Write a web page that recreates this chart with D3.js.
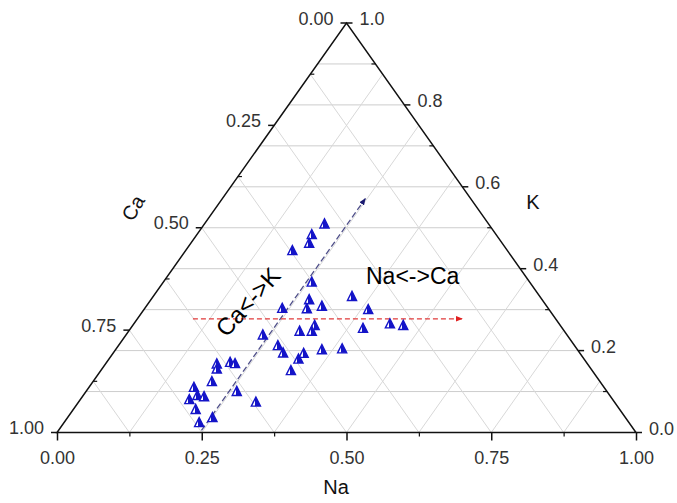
<html>
<head>
<meta charset="utf-8">
<script src="https://d3js.org/d3.v7.min.js"></script>
<style>
  body { margin: 0; background: #fff; }
  .grid line { stroke: #d8d8d8; stroke-width: 1; }
  .grid line.h { stroke: #cdcdcd; }
  .tick-label { font-family: "Liberation Sans", Arial, sans-serif; font-size: 18px; fill: #333; }
  .title { font-family: "Liberation Sans", Arial, sans-serif; font-size: 20px; fill: #111; }
  .note { font-family: "Liberation Sans", Arial, sans-serif; font-size: 23px; fill: #000; }
</style>
</head>
<body>
<div id="chart"></div>
<script>
// sample composition (fractions)
var na = [0.207, 0.198, 0.204, 0.184, 0.256, 0.343, 0.273, 0.280, 0.303, 0.237,
          0.387, 0.314, 0.316, 0.295, 0.401, 0.442, 0.467, 0.236, 0.275, 0.293,
          0.329, 0.327, 0.356, 0.390, 0.328, 0.192, 0.198, 0.213, 0.223, 0.205,
          0.181, 0.197, 0.210, 0.188, 0.260, 0.306, 0.211, 0.250, 0.233];
var k  = [0.510, 0.484, 0.463, 0.445, 0.368, 0.333, 0.325, 0.303, 0.309, 0.304,
          0.301, 0.262, 0.248, 0.248, 0.255, 0.266, 0.262, 0.239, 0.213, 0.195,
          0.194, 0.180, 0.203, 0.205, 0.152, 0.168, 0.156, 0.172, 0.169, 0.125,
          0.111, 0.091, 0.088, 0.081, 0.101, 0.075, 0.057, 0.037, 0.025];
var ca = na.map(function(d, i) { return 1 - d - k[i]; });

// tick values
var naTicks = [0, 0.25, 0.5, 0.75, 1];
var caTicks = [0, 0.25, 0.5, 0.75, 1];
var kTicks  = [0, 0.2, 0.4, 0.6, 0.8, 1];
var naMinor = [0.125, 0.375, 0.625, 0.875];
var caMinor = [0.125, 0.375, 0.625, 0.875];
var kMinor  = [0.1, 0.3, 0.5, 0.7, 0.9];
var kGrid   = [0.1, 0.2, 0.3, 0.4, 0.5, 0.6, 0.7, 0.8, 0.9];
var diagGrid = [0.125, 0.25, 0.375, 0.5, 0.625, 0.75, 0.875];

// trend arrows: [na, k] start and end
var arrowNaCa = [[0.096, 0.2775], [0.561, 0.2775]];
var arrowCaK  = [[0.247, 0.005], [0.247, 0.571]];

var width = 677, height = 503;
var x = d3.scaleLinear().domain([0, 1]).range([57, 636]);
var y = d3.scaleLinear().domain([0, 1]).range([432.5, 23]);

// ternary (na, k) -> screen
function px(n, kk) { return x(n + kk / 2); }
function py(kk) { return y(kk); }

var svg = d3.select("#chart").append("svg")
  .attr("width", width)
  .attr("height", height);

var defs = svg.append("defs");
var grad = defs.append("linearGradient").attr("id", "mk")
  .attr("x1", "0").attr("x2", "1").attr("y1", "0").attr("y2", "0");
grad.append("stop").attr("offset", "0.38").attr("stop-color", "#ffffff");
grad.append("stop").attr("offset", "0.38").attr("stop-color", "#1414c8");
grad.append("stop").attr("offset", "1").attr("stop-color", "#1414c8");

["red", "navy"].forEach(function(c) {
  defs.append("marker")
    .attr("id", "arr-" + c)
    .attr("viewBox", "0 0 10 10")
    .attr("refX", 9).attr("refY", 5)
    .attr("markerWidth", 7).attr("markerHeight", 7)
    .attr("markerUnits", "userSpaceOnUse")
    .attr("orient", "auto")
    .append("path")
    .attr("d", "M0,1 L10,5 L0,9 Z")
    .attr("fill", c == "red" ? "#e02020" : "#1a1a70");
});

// grid lines
var grid = svg.append("g").attr("class", "grid");
kGrid.forEach(function(v) {
  grid.append("line").attr("class", "h")
    .attr("x1", px(0, v)).attr("y1", py(v))
    .attr("x2", px(1 - v, v)).attr("y2", py(v));
});
diagGrid.forEach(function(v) {
  // constant Na
  grid.append("line")
    .attr("x1", px(v, 0)).attr("y1", py(0))
    .attr("x2", px(v, 1 - v)).attr("y2", py(1 - v));
  // constant Ca
  grid.append("line")
    .attr("x1", px(1 - v, 0)).attr("y1", py(0))
    .attr("x2", px(0, 1 - v)).attr("y2", py(1 - v));
});

// triangle frame
svg.append("path")
  .attr("d", "M" + px(0, 0) + "," + py(0) + "L" + px(1, 0) + "," + py(0) +
             "L" + px(0, 1) + "," + py(1) + "Z")
  .attr("fill", "none")
  .attr("stroke", "#111")
  .attr("stroke-width", 1.5);

// bottom axis (Na)
svg.append("g")
  .attr("transform", "translate(0," + py(0) + ")")
  .call(d3.axisBottom(x).tickValues(naTicks).tickSize(8).tickFormat(d3.format(".2f")))
  .call(function(g) {
    g.select(".domain").remove();
    g.selectAll(".tick line").attr("stroke", "#111").attr("stroke-width", 1.5);
    g.selectAll(".tick text").attr("class", "tick-label").attr("dy", null).attr("y", 31);
  });
svg.append("g")
  .attr("transform", "translate(0," + py(0) + ")")
  .call(d3.axisBottom(x).tickValues(naMinor).tickSize(4).tickFormat(""))
  .call(function(g) {
    g.select(".domain").remove();
    g.selectAll(".tick line").attr("stroke", "#111").attr("stroke-width", 1.2);
  });

// left axis (Ca): Na = 0, K = 1 - ca
var left = svg.append("g");
caTicks.forEach(function(c) {
  var xx = px(0, 1 - c), yy = py(1 - c);
  left.append("line").attr("x1", xx).attr("y1", yy).attr("x2", xx - 6).attr("y2", yy)
    .attr("stroke", "#111").attr("stroke-width", 1.5);
  left.append("text").attr("class", "tick-label")
    .attr("x", xx - 13).attr("y", yy + 1.5)
    .attr("text-anchor", "end")
    .text(d3.format(".2f")(c));
});
caMinor.forEach(function(c) {
  var xx = px(0, 1 - c), yy = py(1 - c);
  left.append("line").attr("x1", xx).attr("y1", yy).attr("x2", xx + 4).attr("y2", yy)
    .attr("stroke", "#111").attr("stroke-width", 1.2);
});

// right axis (K): Na = 1 - k
var right = svg.append("g");
kTicks.forEach(function(v) {
  var xx = px(1 - v, v), yy = py(v);
  right.append("line").attr("x1", xx).attr("y1", yy).attr("x2", xx + 6).attr("y2", yy)
    .attr("stroke", "#111").attr("stroke-width", 1.5);
  right.append("text").attr("class", "tick-label")
    .attr("x", xx + 13).attr("y", yy + 2)
    .text(d3.format(".1f")(v));
});
kMinor.forEach(function(v) {
  var xx = px(1 - v, v), yy = py(v);
  right.append("line").attr("x1", xx).attr("y1", yy).attr("x2", xx - 4).attr("y2", yy)
    .attr("stroke", "#111").attr("stroke-width", 1.2);
});

// axis titles
svg.append("text").attr("class", "title")
  .attr("x", 336).attr("y", 494).attr("text-anchor", "middle").text("Na");
svg.append("text").attr("class", "title")
  .attr("transform", "translate(133,208) rotate(-60)")
  .attr("text-anchor", "middle").attr("dy", "0.35em").text("Ca");
svg.append("text").attr("class", "title")
  .attr("x", 533).attr("y", 202).attr("text-anchor", "middle").attr("dy", "0.35em").text("K");

// trend arrows
svg.append("line")
  .attr("x1", px(arrowCaK[0][0], arrowCaK[0][1])).attr("y1", py(arrowCaK[0][1]))
  .attr("x2", px(arrowCaK[1][0], arrowCaK[1][1])).attr("y2", py(arrowCaK[1][1]))
  .attr("stroke", "#50508a").attr("stroke-width", 1.3)
  .attr("stroke-dasharray", "6,3")
  .attr("marker-end", "url(#arr-navy)");
svg.append("line")
  .attr("x1", px(arrowNaCa[0][0], arrowNaCa[0][1])).attr("y1", py(arrowNaCa[0][1]))
  .attr("x2", px(arrowNaCa[1][0], arrowNaCa[1][1])).attr("y2", py(arrowNaCa[1][1]))
  .attr("stroke", "#e03a3a").attr("stroke-width", 1.3)
  .attr("stroke-dasharray", "5,3")
  .attr("marker-end", "url(#arr-red)");

// annotations
svg.append("text").attr("class", "note")
  .attr("transform", "translate(248,302) rotate(-48)")
  .style("font-size", "24px")
  .attr("text-anchor", "middle").attr("dy", "0.35em").text("Ca<->K");
svg.append("text").attr("class", "note")
  .attr("x", 366).attr("y", 284).text("Na<->Ca");

// samples
var s = 4.8;
svg.selectAll(".pt")
  .data(na.map(function(d, i) { return {na: d, k: k[i], ca: ca[i]}; }))
  .enter().append("path")
  .attr("class", "pt")
  .attr("transform", function(d) { return "translate(" + px(d.na, d.k) + "," + py(d.k) + ")"; })
  .attr("d", "M0," + (-s) + "L" + (s * 0.95) + "," + (s * 0.9) + "L" + (-s * 0.95) + "," + (s * 0.9) + "Z")
  .attr("fill", "url(#mk)")
  .attr("stroke", "#1414c8")
  .attr("stroke-width", 1.4)
  .attr("stroke-linejoin", "miter");
</script>
</body>
</html>
